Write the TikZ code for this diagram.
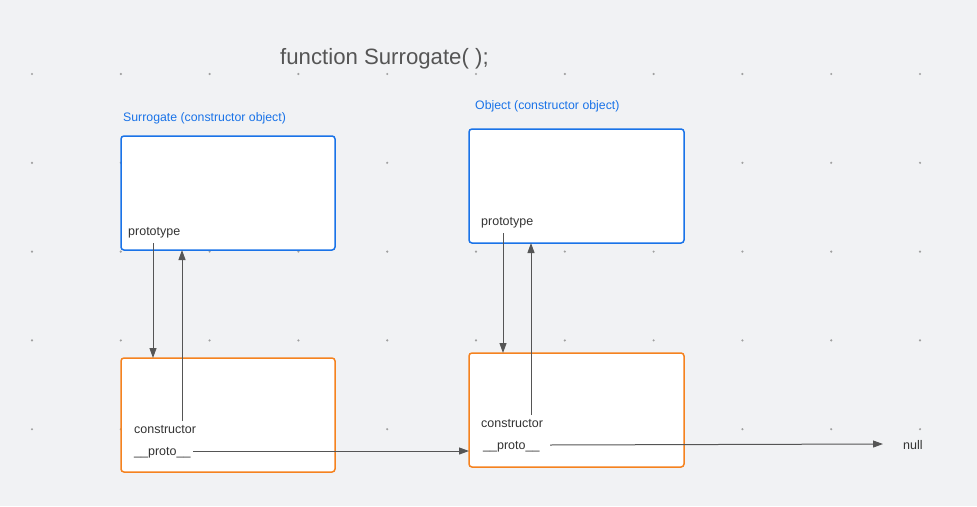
\documentclass[tikz,border=0pt]{standalone}
\usepackage{fontspec}
\setmainfont{Liberation Sans}
\usetikzlibrary{arrows.meta}
\definecolor{bgc}{HTML}{F1F2F4}
\definecolor{dotc}{HTML}{A0A0A0}
\definecolor{bluec}{HTML}{1A73E8}
\definecolor{orangec}{HTML}{F5821F}
\definecolor{linec}{HTML}{555555}
\definecolor{txtc}{HTML}{333333}
\definecolor{titlec}{HTML}{555555}
\definecolor{lblc}{HTML}{1A73E8}
\tikzset{
  objbox/.style={draw=bluec, fill=white, line width=1.5pt, rounded corners=3pt, inner sep=0pt, outer sep=0pt, anchor=north west},
  protobox/.style={draw=orangec, fill=white, line width=1.5pt, rounded corners=3pt, inner sep=0pt, outer sep=0pt, anchor=north west},
  fieldtxt/.style={anchor=base west, inner sep=0pt, text=txtc, font=\fontsize{12.5}{15}\selectfont},
  headtxt/.style={anchor=base west, inner sep=0pt, text=lblc, font=\fontsize{12.3}{15}\selectfont},
  conn/.style={draw=linec, line width=1pt, -{Triangle[length=10pt,width=7pt]}},
}
\begin{document}
\begin{tikzpicture}[x=1pt,y=-1pt]
\fill[bgc] (0,0) rectangle (977,506);
\useasboundingbox (0,0) rectangle (977,506);
% dot grid
\foreach \gx in {32,120.8,209.6,298.4,387.2,476,564.8,653.6,742.4,831.2,920}{
  \foreach \gy in {74,162.8,251.6,340.4,429.2}{
    \fill[dotc] (\gx,\gy) circle (1.2pt);
  }
}
% title
\node[anchor=base west, inner sep=0pt, text=titlec, font=\fontsize{22.2}{26}\selectfont] (title) at (280,64) {function Surrogate( );};
% headings
\node[headtxt] (hs) at (123,121) {Surrogate (constructor object)};
\node[headtxt] (ho) at (475,109) {Object (constructor object)};
% boxes
\node[objbox, minimum width=214pt, minimum height=114pt] (sbox) at (121,136) {};
\node[objbox, minimum width=215pt, minimum height=114pt] (obox) at (469,129) {};
\node[protobox, minimum width=214pt, minimum height=114pt] (spbox) at (121,358) {};
\node[protobox, minimum width=215pt, minimum height=114pt] (opbox) at (469,353) {};
% field texts
\node[fieldtxt] (sproto) at (128,235.5) {prototype};
\node[fieldtxt] (oproto) at (481,225.5) {prototype};
\node[fieldtxt] (scons) at (134,433.5) {constructor};
\node[fieldtxt] (ocons) at (481,427.5) {constructor};
\node[fieldtxt] (sp) at (134,455) {\_\_proto\_\_};
\node[fieldtxt] (op) at (483,449.5) {\_\_proto\_\_};
\node[fieldtxt] (null) at (903,449.5) {null};
% connector anchor points
\coordinate (a1s) at (153,243);
\coordinate (a2s) at (182,421);
\coordinate (b1s) at (503,233);
\coordinate (b2s) at (531,415);
\coordinate (p1s) at (193,451);
\coordinate (p2s) at (550,445);
\coordinate (nullw) at (883,444);
% connectors
\draw[conn] (a1s) -- (a1s |- spbox.north);
\draw[conn] (a2s) -- (a2s |- sbox.south);
\draw[conn] (b1s) -- (b1s |- opbox.north);
\draw[conn] (b2s) -- (b2s |- obox.south);
\draw[conn] (p1s) -- (p1s -| opbox.west);
\draw[conn] (p2s) -- (nullw);
\end{tikzpicture}
\end{document}
